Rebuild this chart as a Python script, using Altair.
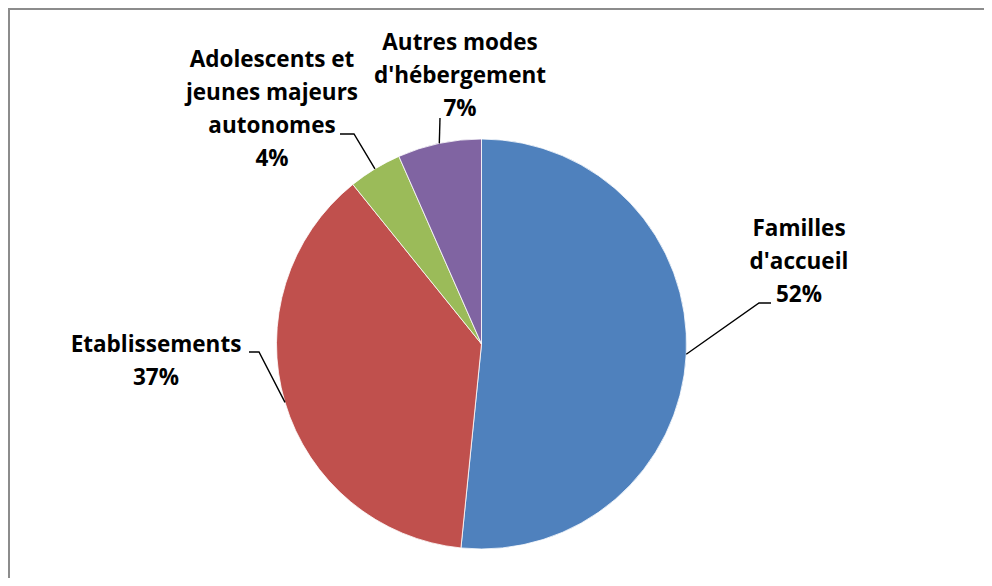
import altair as alt
import pandas as pd
import numpy as np

# ---- data ----
categories = ["Familles d'accueil", "Etablissements",
              "Adolescents et jeunes majeurs autonomes", "Autres modes d'hébergement"]
values = [51.6, 37.6, 4.2, 6.6]
pct_labels = ["52%", "37%", "4%", "7%"]
label_lines = [["Familles", "d'accueil"], ["Etablissements"],
               ["Adolescents et", "jeunes majeurs", "autonomes"],
               ["Autres modes", "d'hébergement"]]

# ---- styles / layout ----
colors = ["#4F81BD", "#C0504D", "#9BBB59", "#8064A2"]
W, H = 976, 570
CX, CY, R = 473.5, 336, 205
label_anchor = [(791, 228), (148, 344), (264, 59), (452, 42)]
leader_elbow = [(751, 295), (251, 344), (346, 126), (432, 110)]
leader_end = [(763, 295), (241, 344), (332, 126), (432, 110)]
FONT = "Open Sans"
FS = 22.5
LH = 33

vals = np.array(values, dtype=float)
df = pd.DataFrame({"category": categories, "value": vals, "idx": range(len(vals))})

# leader lines: start on the pie edge at the mid-angle of each slice
start = np.cumsum(vals) - vals
mid = (start + vals / 2) / vals.sum() * 2 * np.pi
rows = []
for i, c in enumerate(categories):
    ex = CX + R * np.sin(mid[i])
    ey = CY - R * np.cos(mid[i])
    pts = [(ex, ey), leader_elbow[i], leader_end[i]]
    for j, (px, py) in enumerate(pts):
        rows.append({"slice": c, "pt": j, "x": px, "y": py})
df_lines = pd.DataFrame(rows)

df_text = pd.DataFrame({
    "slice": categories,
    "text": ["\n".join(label_lines[i] + [pct_labels[i]]) for i in range(len(categories))],
    "x": [a[0] for a in label_anchor],
    "y": [a[1] for a in label_anchor],
})

frame_df = pd.DataFrame({"k": [0]})
frame_top = alt.Chart(frame_df).mark_rule(color="#8c8c8c", strokeWidth=2).encode(
    x=alt.value(0), x2=alt.value(W), y=alt.value(1))
frame_left = alt.Chart(frame_df).mark_rule(color="#8c8c8c", strokeWidth=2).encode(
    x=alt.value(1), y=alt.value(0), y2=alt.value(H))

arc = alt.Chart(df).mark_arc(outerRadius=R, stroke="white", strokeWidth=0.8).encode(
    theta=alt.Theta("value:Q", stack=True),
    color=alt.Color("category:N", scale=alt.Scale(domain=categories, range=colors), legend=None),
    order=alt.Order("idx:Q"),
    x=alt.value(CX),
    y=alt.value(CY),
)

lines = alt.Chart(df_lines).mark_line(color="black", strokeWidth=1.4).encode(
    x=alt.X("x:Q", scale=None, axis=None),
    y=alt.Y("y:Q", scale=None, axis=None),
    detail="slice:N",
    order="pt:Q",
)

text = alt.Chart(df_text).mark_text(
    font=FONT, fontSize=FS, fontWeight="bold", align="center", baseline="alphabetic",
    lineBreak="\n", lineHeight=LH, color="black"
).encode(
    x=alt.X("x:Q", scale=None, axis=None),
    y=alt.Y("y:Q", scale=None, axis=None),
    text="text:N",
)

chart = alt.layer(frame_top, frame_left, arc, lines, text).properties(
    width=W, height=H, padding=0, autosize=alt.AutoSizeParams(type="none"),
    background="white"
).configure_view(stroke=None)

chart.save("out.html", embed_options={"renderer": "svg", "actions": False})
